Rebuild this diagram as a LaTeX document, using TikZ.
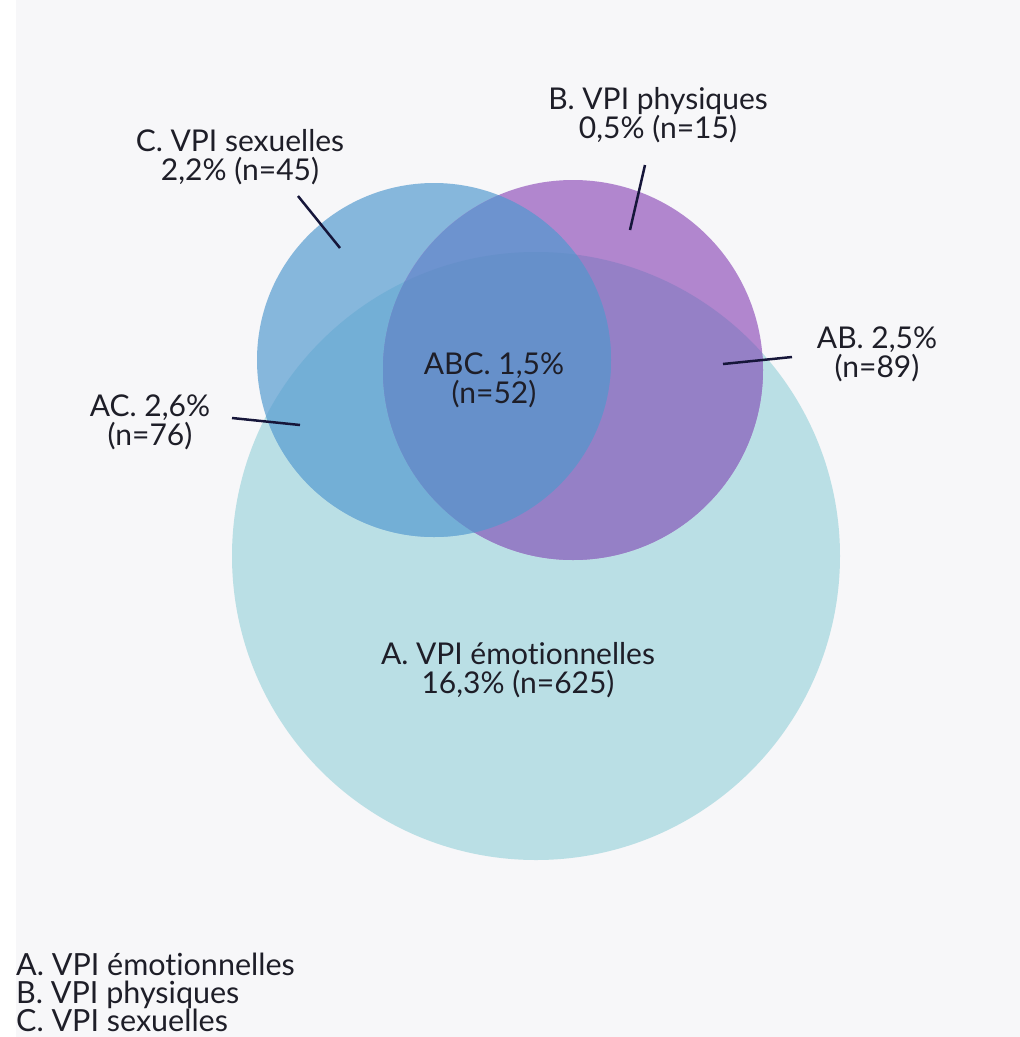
\documentclass[tikz,border=0pt]{standalone}
\usepackage{fontspec}
\setmainfont{Lato}[Ligatures={NoCommon}]
\definecolor{bgc}{HTML}{F7F7F9}
\definecolor{colA}{HTML}{BADFE5}
\definecolor{colB}{HTML}{B186CE}
\definecolor{colC}{HTML}{86B7DC}
\definecolor{colAB}{HTML}{9580C6}
\definecolor{colAC}{HTML}{73AFD6}
\definecolor{colBC}{HTML}{6D93CF}
\definecolor{colABC}{HTML}{6690CA}
\definecolor{txt}{HTML}{1E1E28}
\definecolor{leadc}{HTML}{16163A}
\tikzset{
	lbl/.style={font=\fontsize{30}{29}\selectfont, align=center, text=txt, inner sep=0pt},
	leg/.style={font=\fontsize{30.5}{28}\selectfont, align=left, text=txt, inner sep=0pt, anchor=base west},
	lead/.style={line width=2.5pt, draw=leadc}
}

\begin{document}
\begin{tikzpicture}[x=1pt,y=-1pt]
	\useasboundingbox (0,0) rectangle (1020,1037);
	\fill[white] (0,0) rectangle (1020,1037);
	\fill[bgc] (16,0) rectangle (1020,1037);

	% circle centres
	\coordinate (cA) at (536,556);
	\coordinate (cB) at (573,370);
	\coordinate (cC) at (434,360);

	\fill[colA] (cA) circle (304);
	\fill[colC] (cC) circle (177);
	\fill[colB] (cB) circle (190);
	\begin{scope}
		\clip (cA) circle (304);
		\fill[colAC] (cC) circle (177);
		\fill[colAB] (cB) circle (190);
	\end{scope}
	\begin{scope}
		\clip (cC) circle (177);
		\fill[colBC] (cB) circle (190);
		\clip (cA) circle (304);
		\fill[colABC] (cB) circle (190);
	\end{scope}

	% labels
	\node[lbl] (labC) at (240,157) {C. VPI sexuelles\\2,2\% (n=45)};
	\node[lbl] (labB) at (658,115) {B. VPI physiques\\0,5\% (n=15)};
	\node[lbl] (labAB) at (877,354) {AB. 2,5\%\\(n=89)};
	\node[lbl] (labAC) at (150,422) {AC. 2,6\%\\(n=76)};
	\node[lbl] (labABC) at (494,380) {ABC. 1,5\%\\(n=52)};
	\node[lbl] (labA) at (518,670) {A. VPI émotionnelles\\16,3\% (n=625)};

	% leader lines
	\coordinate (pC1) at (298,196);
	\coordinate (pC2) at (340,248);
	\coordinate (pB1) at (645,165);
	\coordinate (pB2) at (630,230);
	\coordinate (pAB1) at (792,357);
	\coordinate (pAB2) at (723,364);
	\coordinate (pAC1) at (232,418);
	\coordinate (pAC2) at (300,425);
	\draw[lead] (pC1) -- (pC2);
	\draw[lead] (pB1) -- (pB2);
	\draw[lead] (pAB1) -- (pAB2);
	\draw[lead] (pAC1) -- (pAC2);

	% legend (base = last line)
	\node[leg] (legend) at (16,1031) {A. VPI émotionnelles\\B. VPI physiques\\C. VPI sexuelles};
\end{tikzpicture}
\end{document}
